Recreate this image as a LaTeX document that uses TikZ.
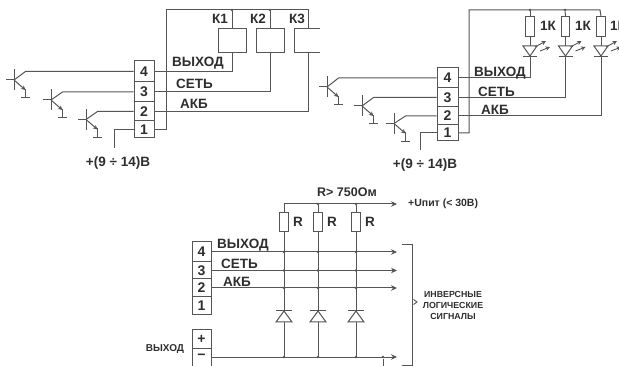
\documentclass[tikz,border=0pt]{standalone}
\usepackage{fontspec}
\setmainfont{Liberation Sans}
\usetikzlibrary{arrows.meta,calc}
\definecolor{wire}{HTML}{555555}
\definecolor{ink}{HTML}{2E2E2E}
\tikzset{
  wr/.style={draw=wire,line width=1pt,line join=miter},
  cell/.style={draw=wire,line width=1pt,rectangle,inner sep=0pt,minimum width=#1,text=ink,font=\fontsize{14}{14}\selectfont\bfseries},
  cell/.default=20pt,
  lab/.style={text=ink,inner sep=0pt,font=\fontsize{13.5}{14}\selectfont\bfseries},
  smalllab/.style={text=ink,inner sep=0pt,align=center,font=\fontsize{8.8}{11}\selectfont\bfseries},
  dot/.style={circle,fill=wire,inner sep=0pt,minimum size=2.6pt},
  res/.style={draw=wire,line width=1pt,rectangle,inner sep=0pt,fill=white,minimum width=8.5pt,minimum height=19.5pt},
  arr/.style={wr,-{Stealth[length=6pt,width=5.5pt]}},
  thinarr/.style={draw=wire,line width=.9pt,-{Stealth[length=4.5pt,width=4.5pt]}}
}
\newcommand{\transistor}[4]{% id, bar x, base y, terminal node
  \coordinate (#1b) at (#2,#3);
  \coordinate (#1c) at ($(#2,0)+(11.5,0)$);
  \draw[wr] (#1b) ++(-8,0) -- (#1b);
  \draw[wr] (#1b) ++(0,-10.5) -- ++(0,21);
  \draw[wr] (#1b) -- (#1c |- #4.west) -- (#4.west);
  \draw[thinarr,line width=1pt] (#1b) -- ++(11.5,10);
  \draw[wr] (#1b) ++(11.5,9) -- ++(0,9) ++(-4.5,0) -- ++(9,0);
}
\newcommand{\ledsym}[2]{% x, top y
  \draw[wr,fill=white] (#1-7,#2) -- (#1+7,#2) -- (#1,#2+10) -- cycle;
  \draw[wr] (#1-7,#2+11) -- (#1+7,#2+11);
  \draw[thinarr] (#1+5,#2+1) -- ++(11,-6);
  \draw[thinarr] (#1+10,#2+5) -- ++(10,-4);
}
\newcommand{\diodesym}[2]{% x, top y
  \draw[wr,fill=white] (#1-8,#2+11) -- (#1+8,#2+11) -- (#1,#2) -- cycle;
  \draw[wr] (#1-8,#2) -- (#1+8,#2);
}
\begin{document}
\begin{tikzpicture}[x=1pt,y=-1pt]
\useasboundingbox (0,0) rectangle (619,366);
\clip (0,0) rectangle (619,366);
% ---------- upper left
\node[cell,minimum height=21pt] (a4) at (144,71.5) {4};
\node[cell,minimum height=20pt] (a3) at (144,92) {3};
\node[cell,minimum height=19pt] (a2) at (144,111.5) {2};
\node[cell,minimum height=17pt] (a1) at (144,129.5) {1};
\node[cell=28pt,minimum height=24pt] (k1) at (232,41) {};
\node[cell=28pt,minimum height=24pt] (k2) at (270,41) {};
\coordinate (k3t) at (308,29);
\coordinate (k3b) at (308,53);
\draw[wr] (320,29) -- (294,29) -- (294,53) -- (320,53);
\coordinate (abus) at (166,10);
\coordinate (abusend) at (308,10);
\node[dot] (ad1) at (232,10) {};
\node[dot] (ad2) at (270,10) {};
\draw[wr] (a1.east) -- (abus |- a1.east) -- (abus) -- (abusend) -- (k3t);
\draw[wr] (ad1) -- (k1.north);
\draw[wr] (ad2) -- (k2.north);
\draw[wr] (k1.south) |- (a4.east);
\draw[wr] (k2.south) |- (a3.east);
\draw[wr] (k3b) |- (a2.east);
\coordinate (av) at (114,148);
\draw[wr] (a1.west) -| (av);
\transistor{at1}{14}{80}{a4}
\transistor{at2}{51}{100}{a3}
\transistor{at3}{86}{119.5}{a2}
\node[lab,anchor=west] at (172,63) {ВЫХОД};
\node[lab,anchor=west] at (176,84) {СЕТЬ};
\node[lab,anchor=west] at (180,104) {АКБ};
\node[lab] at (220,19) {К1};
\node[lab] at (258,19) {К2};
\node[lab] at (297,19) {К3};
\node[lab] at (118,163) {+(9 ÷ 14)В};
% ---------- upper right
\node[cell=21pt,minimum height=20pt] (b4) at (447.5,78) {4};
\node[cell=21pt,minimum height=19pt] (b3) at (447.5,97.5) {3};
\node[cell=21pt,minimum height=18pt] (b2) at (447.5,116) {2};
\node[cell=21pt,minimum height=16pt] (b1) at (447.5,133) {1};
\coordinate (bbus) at (469,10);
\coordinate (bbusend) at (600,10);
\node[dot] (bd1) at (530,10) {};
\node[dot] (bd2) at (565,10) {};
\node[res] (br1) at (530,26.5) {};
\node[res] (br2) at (565.5,26.5) {};
\node[res] (br3) at (601,26.5) {};
\draw[wr] (b1.east) -- (bbus |- b1.east) -- (bbus) -- (bbusend) -- (br3.north);
\draw[wr] (bd1) -- (br1.north);
\draw[wr] (bd2) -- (br2.north);
\coordinate (bl1) at (530,46);
\coordinate (bl2) at (565.5,46);
\coordinate (bl3) at (601,46);
\draw[wr] (br1.south) -- (bl1);
\draw[wr] (br2.south) -- (bl2);
\draw[wr] (br3.south) -- (bl3);
\ledsym{530}{46}
\ledsym{565.5}{46}
\ledsym{601}{46}
\draw[wr] (bl1) ++(0,10) coordinate (bk1) (bk1) |- (b4.east);
\draw[wr] (bl2) ++(0,10) coordinate (bk2) (bk2) |- (b3.east);
\draw[wr] (bl3) ++(0,10) coordinate (bk3) (bk3) |- (b2.east);
\coordinate (bv) at (420,150);
\draw[wr] (b1.west) -| (bv);
\transistor{bt1}{327}{87}{b4}
\transistor{bt2}{362}{106}{b3}
\transistor{bt3}{394}{123.5}{b2}
\node[lab,anchor=west] at (474,73) {ВЫХОД};
\node[lab,anchor=west] at (478,92) {СЕТЬ};
\node[lab,anchor=west] at (481,110) {АКБ};
\node[lab] at (548,26) {1К};
\node[lab] at (583,26) {1К};
\node[lab,anchor=west] at (610,26) {1К};
\node[lab] at (425,165) {+(9 ÷ 14)В};
% ---------- bottom
\node[cell=19pt,minimum height=20pt] (c4) at (201.5,252) {4};
\node[cell=19pt,minimum height=17pt] (c3) at (201.5,270.5) {3};
\node[cell=19pt,minimum height=18pt] (c2) at (201.5,288) {2};
\node[cell=19pt,minimum height=18pt] (c1) at (201.5,306) {1};
\node[cell=19pt,minimum height=18pt] (cp) at (201.5,339) {+};
\node[cell=19pt,minimum height=18pt] (cm) at (201.5,357) {−};
\coordinate (cbus) at (284,204);
\coordinate (cbusend) at (397,204);
\coordinate (ca4) at (397,252);
\coordinate (ca3) at (397,270.5);
\coordinate (ca2) at (397,288);
\coordinate (cam) at (397,357);
\node[res] (cr1) at (284,222) {};
\node[res] (cr2) at (318,222) {};
\node[res] (cr3) at (356,222) {};
\node[dot] (cd2) at (318,204) {};
\node[dot] (cd3) at (356,204) {};
\draw[arr] (cbus) -- (cbusend);
\draw[wr] (cbus) -- (cr1.north);
\draw[wr] (cd2) -- (cr2.north);
\draw[wr] (cd3) -- (cr3.north);
\draw[arr] (c4.east) -- (ca4);
\draw[arr] (c3.east) -- (ca3);
\draw[arr] (c2.east) -- (ca2);
\draw[arr] (cm.east) -- (cam);
\foreach \xx/\nm in {284/1,318/2,356/3}{
  \coordinate (cg\nm) at (\xx,357);
  \draw[wr] (cr\nm.south) -- (cg\nm);
  \diodesym{\xx}{311}
  \foreach \yy in {252,270.5,288,357}{\node[dot] at (\xx,\yy) {};}
}
\node[dot] (cd4) at (383,357) {};
\coordinate (cd4b) at (383,366);
\draw[wr] (cd4) -- (cd4b);
\draw[wr] (402,245) -- (412,245) -- (412,365) -- (402,365);
\draw[wr,line width=.9pt] (413.5,299.5) -- (417,302) -- (413.5,304.5);
\node[lab,anchor=west] at (217,245) {ВЫХОД};
\node[lab,anchor=west] at (221,264) {СЕТЬ};
\node[lab,anchor=west] at (223,282) {АКБ};
\node[lab,font=\fontsize{12.5}{14}\selectfont\bfseries] at (347,192) {R> 750Ом};
\node[lab] at (298,222) {R};
\node[lab] at (332,222) {R};
\node[lab] at (370,222) {R};
\node[lab,anchor=west,font=\fontsize{10.5}{11}\selectfont\bfseries] at (408,204) {+Uпит (< 30В)};
\node[smalllab] at (453,305) {ИНВЕРСНЫЕ\\ЛОГИЧЕСКИЕ\\СИГНАЛЫ};
\node[lab,font=\fontsize{10}{11}\selectfont\bfseries] at (165,349) {ВЫХОД};
\end{tikzpicture}
\end{document}
